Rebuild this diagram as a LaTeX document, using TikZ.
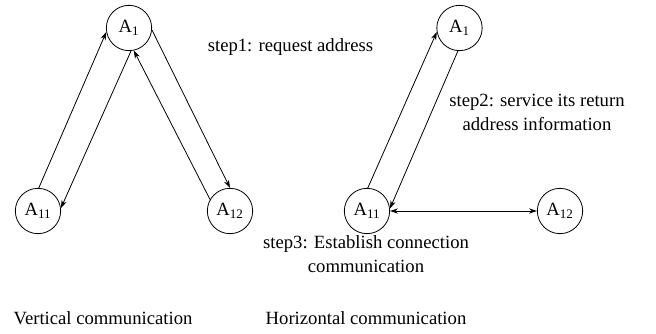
\documentclass[tikz,border=0pt]{standalone}
\usepackage{fontspec}
\setmainfont{Liberation Serif}
\usetikzlibrary{arrows.meta,positioning}

\tikzset{
  agent/.style={draw,circle,line width=0.6pt,minimum size=34pt,inner sep=0pt,font=\fontsize{14}{16}\selectfont},
  link/.style={line width=0.6pt,-{Stealth[length=6pt,width=4pt]}},
  both/.style={line width=0.6pt,{Stealth[length=6pt,width=4pt]}-{Stealth[length=6pt,width=4pt]}},
  lbl/.style={align=center,font=\fontsize{14}{18}\selectfont}
}

\begin{document}
\begin{tikzpicture}[x=0.75pt,y=0.75pt]
\useasboundingbox (0,0) rectangle (656,334);
% vertical
\node[agent] (vA1)  at (129,306) {A\textsubscript{1}};
\node[agent] (vA11) at (38,123)  {A\textsubscript{11}};
\node[agent] (vA12) at (230,123) {A\textsubscript{12}};
\draw[link] (vA11.88) -- (vA1.190);
\draw[link] (vA1.275) -- (vA11.7);
\draw[link] (vA12.150) -- (vA1.282);
\draw[link] (vA1.355) -- (vA12.90);
% horizontal
\node[agent] (hA1)  at (459.5,306) {A\textsubscript{1}};
\node[agent] (hA11) at (367,123)   {A\textsubscript{11}};
\node[agent] (hA12) at (560,123)   {A\textsubscript{12}};
\draw[link] (hA11.88) -- (hA1.190);
\draw[link] (hA1.266) -- (hA11.6);
\draw[both] (hA11) -- (hA12);
% labels
\node[lbl] (step1) at (290.5,287) {step1: request address};
\node[lbl] (step2) at (537,222) {step2: service its return\\address information};
\node[lbl] (step3) at (366,79.5) {step3: Establish connection\\communication};
\node[lbl] (vcap) at (103,16) {Vertical communication};
\node[lbl] (hcap) at (366,16) {Horizontal communication};
\end{tikzpicture}
\end{document}
